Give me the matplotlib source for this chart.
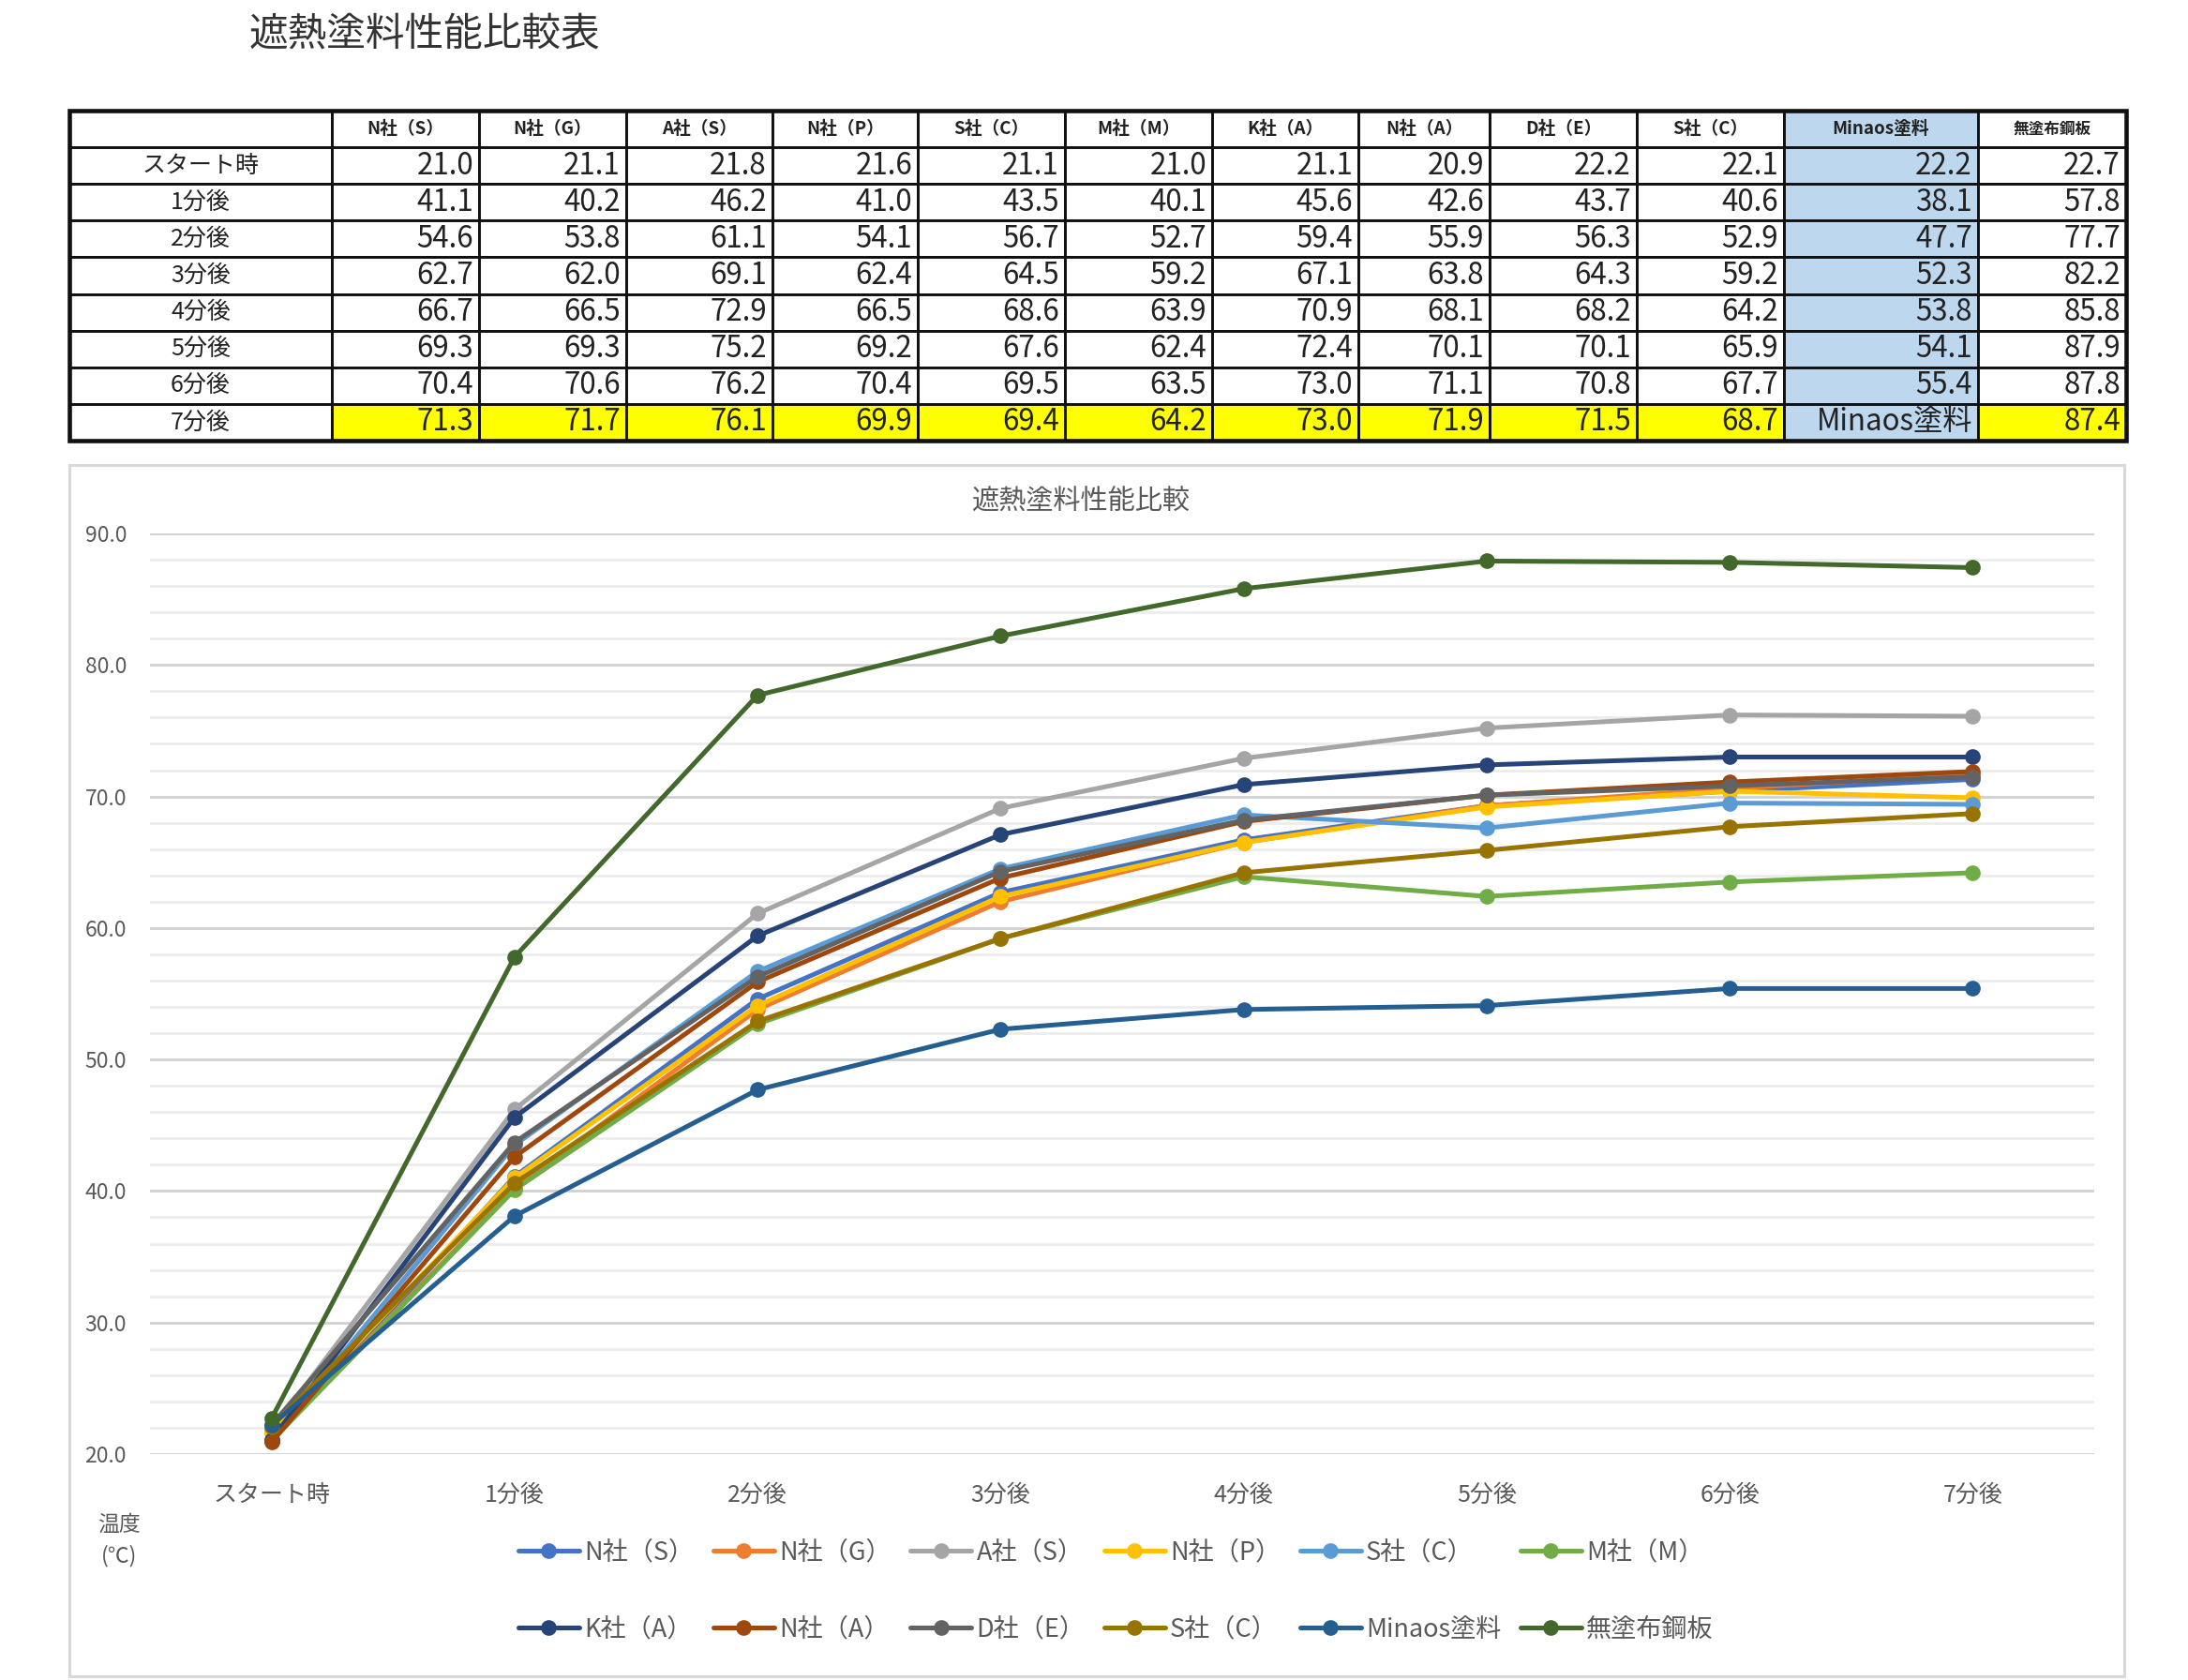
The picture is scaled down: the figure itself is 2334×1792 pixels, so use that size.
import matplotlib
matplotlib.use("Agg")
import matplotlib.pyplot as plt
from matplotlib.patches import Rectangle
from matplotlib.ticker import MultipleLocator, FormatStrFormatter

plt.rcParams['font.family'] = ['Noto Sans CJK JP', 'DejaVu Sans']

times = ['スタート時', '1分後', '2分後', '3分後', '4分後', '5分後', '6分後', '7分後']
companies = ['N社（S）', 'N社（G）', 'A社（S）', 'N社（P）', 'S社（C）', 'M社（M）',
             'K社（A）', 'N社（A）', 'D社（E）', 'S社（C）', 'Minaos塗料', '無塗布鋼板']

n_s = [21.0, 41.1, 54.6, 62.7, 66.7, 69.3, 70.4, 71.3]
n_g = [21.1, 40.2, 53.8, 62.0, 66.5, 69.3, 70.6, 71.7]
a_s = [21.8, 46.2, 61.1, 69.1, 72.9, 75.2, 76.2, 76.1]
n_p = [21.6, 41.0, 54.1, 62.4, 66.5, 69.2, 70.4, 69.9]
s_c1 = [21.1, 43.5, 56.7, 64.5, 68.6, 67.6, 69.5, 69.4]
m_m = [21.0, 40.1, 52.7, 59.2, 63.9, 62.4, 63.5, 64.2]
k_a = [21.1, 45.6, 59.4, 67.1, 70.9, 72.4, 73.0, 73.0]
n_a = [20.9, 42.6, 55.9, 63.8, 68.1, 70.1, 71.1, 71.9]
d_e = [22.2, 43.7, 56.3, 64.3, 68.2, 70.1, 70.8, 71.5]
s_c2 = [22.1, 40.6, 52.9, 59.2, 64.2, 65.9, 67.7, 68.7]
minaos = [22.2, 38.1, 47.7, 52.3, 53.8, 54.1, 55.4, 55.4]
bare = [22.7, 57.8, 77.7, 82.2, 85.8, 87.9, 87.8, 87.4]

series = [n_s, n_g, a_s, n_p, s_c1, m_m, k_a, n_a, d_e, s_c2, minaos, bare]
colors = ['#4472C4', '#ED7D31', '#A5A5A5', '#FFC000', '#5B9BD5', '#70AD47',
          '#264478', '#9E480E', '#636363', '#997300', '#255E91', '#43682B']

W, H = 2334, 1792
fig = plt.figure(figsize=(W / 150, H / 150), dpi=150)

# overlay axes in pixel coordinates for the table and the chart frame
ov = fig.add_axes([0, 0, 1, 1], zorder=0)
ov.set_xlim(0, W)
ov.set_ylim(H, 0)
ov.axis('off')

ov.text(266, 37, '遮熱塗料性能比較表', fontsize=20, color='#333333', ha='left', va='center')

# table
col_w = [280, 157, 157, 156, 155, 157, 157, 156, 140, 157, 157, 207, 158]
row_h = 39.1
tx0, ty0 = 74, 118
edges = [tx0]
for w in col_w:
    edges.append(edges[-1] + w)
blue = '#BDD7EE'
yellow = '#FFFF00'
minaos_col = companies.index('Minaos塗料') + 1

for r in range(len(times) + 1):
    y = ty0 + r * row_h
    for c in range(len(col_w)):
        x = edges[c]
        fc = 'white'
        if c == minaos_col:
            fc = blue
        elif r == len(times) and c > 0:
            fc = yellow
        ov.add_patch(Rectangle((x, y), col_w[c], row_h, facecolor=fc,
                               edgecolor='#111111', lw=1.4))
        cy = y + row_h / 2
        if r == 0:
            if c > 0:
                fs = 8 if companies[c - 1] == '無塗布鋼板' else 9
                ov.text(x + col_w[c] / 2, cy, companies[c - 1], fontsize=fs,
                        fontweight='bold', ha='center', va='center', color='#222222')
        elif c == 0:
            ov.text(x + col_w[c] / 2, cy, times[r - 1], fontsize=12,
                    ha='center', va='center', color='#222222')
        else:
            if r == len(times) and c == minaos_col:
                label = 'Minaos塗料'
            else:
                label = '%.1f' % series[c - 1][r - 1]
            ov.text(x + col_w[c] - 6, cy, label, fontsize=15,
                    ha='right', va='center', color='#222222')
ov.add_patch(Rectangle((tx0, ty0), edges[-1] - tx0, row_h * (len(times) + 1),
                       facecolor='none', edgecolor='#111111', lw=2.2))

# chart frame
ov.add_patch(Rectangle((74, 496), 2266 - 74, 1788 - 496, facecolor='white',
                       edgecolor='#D9D9D9', lw=1.5))
ov.text(1153, 536, '遮熱塗料性能比較', fontsize=14, color='#595959',
        ha='center', va='center')
ov.text(127, 1626, '温度', fontsize=11, color='#595959', ha='center', va='center')
ov.text(127, 1660, '(℃)', fontsize=11, color='#595959', ha='center', va='center')

# line chart
ax = fig.add_axes([160 / W, 1 - 1551 / H, (2234 - 160) / W, (1551 - 569) / H], zorder=1)
ax.patch.set_alpha(0)
x = list(range(len(times)))
handles = []
for name, vals, col in zip(companies, series, colors):
    h, = ax.plot(x, vals, color=col, lw=2.4, marker='o', markersize=7,
                 markerfacecolor=col, markeredgecolor=col, label=name,
                 solid_capstyle='round', zorder=3)
    handles.append(h)

ax.set_xlim(-0.5, len(times) - 0.5)
ax.set_ylim(20, 90)
ax.yaxis.set_major_locator(MultipleLocator(10))
ax.yaxis.set_minor_locator(MultipleLocator(2))
ax.yaxis.set_major_formatter(FormatStrFormatter('%.1f'))
ax.set_xticks(x)
ax.set_xticklabels(times)
ax.grid(axis='y', which='major', color='#D0D0D0', lw=1.3, zorder=0)
ax.grid(axis='y', which='minor', color='#ECECEC', lw=1.3, zorder=0)
for s in ax.spines.values():
    s.set_visible(False)
ax.tick_params(axis='both', which='both', length=0, colors='#595959')
ax.tick_params(axis='y', labelsize=11, pad=12)
ax.tick_params(axis='x', labelsize=12, pad=15)

# legend, row-major order
order = []
for i in range(6):
    order += [i, i + 6]
leg = fig.legend([handles[i] for i in order], [companies[i] for i in order],
                 ncol=6, loc='center', bbox_to_anchor=(0.51, 0.053),
                 frameon=False, fontsize=13, handlelength=2.4, handletextpad=0.2,
                 columnspacing=0.75, labelspacing=2.05)
for t in leg.get_texts():
    t.set_color('#595959')

fig.savefig('out.png', dpi=150, facecolor='white')
